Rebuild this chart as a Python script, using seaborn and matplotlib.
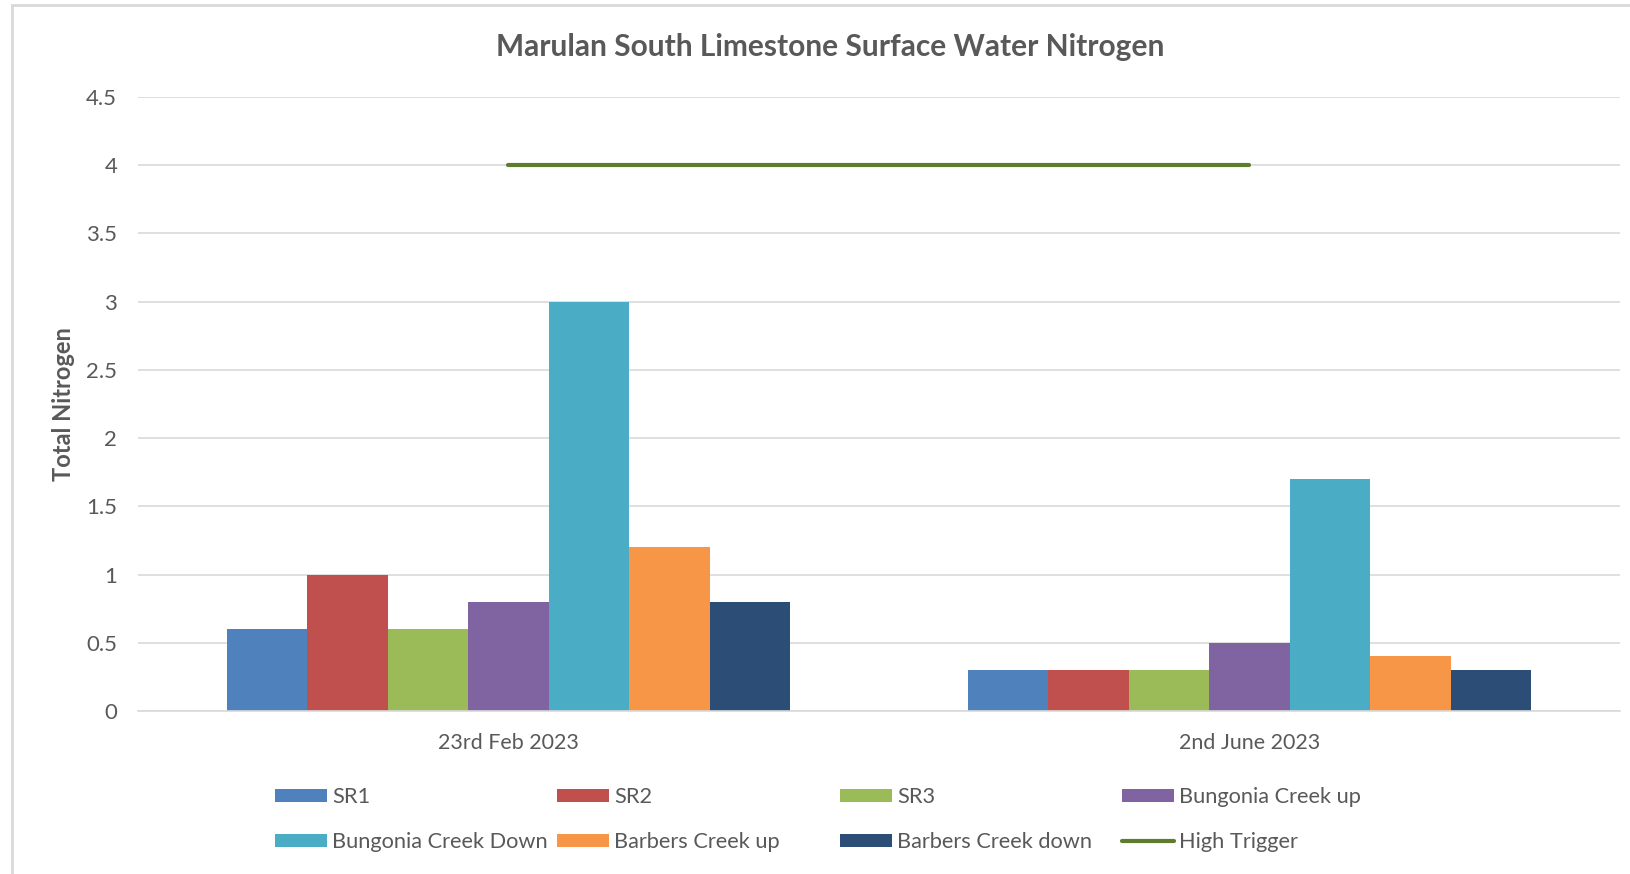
import pandas as pd
import seaborn as sns
import matplotlib.pyplot as plt
from matplotlib.patches import Patch, Rectangle
from matplotlib.lines import Line2D

# Chart data
dates = ["23rd Feb 2023", "2nd June 2023"]
sites = ["SR1", "SR2", "SR3", "Bungonia Creek up", "Bungonia Creek Down",
         "Barbers Creek up", "Barbers Creek down"]
feb_values = [0.6, 1.0, 0.6, 0.8, 3.0, 1.2, 0.8]
june_values = [0.3, 0.3, 0.3, 0.5, 1.7, 0.4, 0.3]
high_trigger = [4.0, 4.0]

site_colors = ["#4F81BD", "#C0504D", "#9BBB59", "#8064A2", "#4BACC6",
               "#F79646", "#2C4D75"]
trigger_color = "#5E7B2E"
grey = "#595959"
light = "#D9D9D9"

df = pd.DataFrame({
    "Date": [dates[0]] * len(sites) + [dates[1]] * len(sites),
    "Site": sites * 2,
    "Nitrogen": feb_values + june_values,
})
trig = pd.DataFrame({"pos": list(range(len(dates))), "value": high_trigger})

sns.set_style("white")
plt.rcParams["font.family"] = ["Lato", "DejaVu Sans"]

fig = plt.figure(figsize=(16.31, 8.74), dpi=100)
ax = fig.add_axes([138 / 1631, 1 - 711 / 874, (1620 - 138) / 1631, (711 - 97) / 874])

sns.barplot(data=df, x="Date", y="Nitrogen", hue="Site", hue_order=sites,
            palette=site_colors, width=0.76, gap=0, legend=False, ax=ax,
            linewidth=0, saturation=1)
sns.lineplot(data=trig, x="pos", y="value", color=trigger_color, linewidth=3.0,
             ax=ax, legend=False)

ax.set_xlim(-0.5, len(dates) - 0.5)
ax.set_ylim(0, 4.5)
yt = [i * 0.5 for i in range(10)]
ax.set_yticks(yt)
ax.set_yticklabels([f"{v:g}" for v in yt])
ax.yaxis.grid(True, color=light, linewidth=1.2)
ax.set_axisbelow(True)
for s in ["top", "right", "left"]:
    ax.spines[s].set_visible(False)
ax.spines["bottom"].set_color(light)
ax.spines["bottom"].set_linewidth(1.2)
ax.set_xticks(range(len(dates)))
ax.set_xticklabels(dates)
ax.set_xticks([-0.5, 0.5, 1.5], minor=True)
ax.tick_params(axis="x", which="major", length=0, pad=15.5, labelsize=15.4, labelcolor=grey)
ax.tick_params(axis="x", which="minor", length=6, color=light, width=1.2, direction="out")
ax.tick_params(axis="y", length=0, pad=15, labelsize=16, labelcolor=grey)
ax.set_xlabel("")
ax.set_ylabel("")

fig.text(830 / 1631, 1 - 47 / 874, "Marulan South Limestone Surface Water Nitrogen",
         ha="center", va="center", fontsize=21.5, fontweight="bold", color=grey)
fig.text(64 / 1631, 1 - 404 / 874, "Total Nitrogen", rotation=90, ha="center",
         va="center", fontsize=17, fontweight="bold", color=grey)

# chart area border (left and top)
fig.add_artist(Rectangle((12 / 1631, -0.1), 1.2, 1 - 5 / 874 + 0.1,
                         transform=fig.transFigure, fill=False,
                         edgecolor=light, linewidth=2))

# legend laid out as 4 equal columns, 2 rows
handles = [Patch(facecolor=c, linewidth=0) for c in site_colors]
handles.append(Line2D([], [], color=trigger_color, linewidth=3.0))
labels = sites + ["High Trigger"]
col_x = [275, 557, 840, 1122]
for i, x in enumerate(col_x):
    fig.legend([handles[i], handles[i + 4]], [labels[i], labels[i + 4]],
               loc="upper left", bbox_to_anchor=(x / 1631, 1 - 787 / 874),
               frameon=False, fontsize=15.7, labelcolor=grey, handlelength=2.4,
               handleheight=0.57, handletextpad=0.22, labelspacing=1.15,
               borderpad=0, borderaxespad=0)

fig.savefig("out.png", dpi=100)
plt.close(fig)
